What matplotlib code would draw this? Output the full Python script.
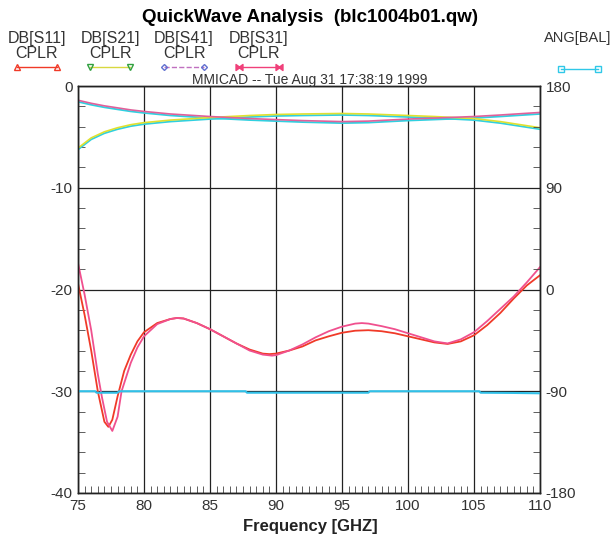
import matplotlib
matplotlib.use('Agg')
import matplotlib.pyplot as plt
from matplotlib.lines import Line2D
from matplotlib.transforms import offset_copy
from matplotlib.ticker import MultipleLocator

plt.rcParams['font.family'] = ['Liberation Sans', 'DejaVu Sans']
plt.rcParams['axes.unicode_minus'] = False

# ---- data ----
freq_s11 = [75, 75.5, 76, 76.5, 77, 77.3, 77.6, 78, 78.5, 79, 79.5, 80, 81, 82, 82.5, 83, 84, 85,
            86, 87, 88, 89, 89.5, 90, 91, 92, 93, 94, 95, 96, 97, 98, 99, 100, 101, 102, 103, 104,
            105, 106, 107, 108, 109, 110]
db_s11 = [-19.4, -22.5, -26.0, -30.0, -33.0, -33.5, -32.8, -30.5, -28.0, -26.4, -25.1, -24.2,
          -23.3, -22.9, -22.8, -22.85, -23.3, -23.9, -24.6, -25.3, -25.9, -26.3, -26.35, -26.3,
          -26.0, -25.6, -25.0, -24.6, -24.25, -24.05, -24.0, -24.1, -24.3, -24.6, -24.9, -25.2,
          -25.35, -25.1, -24.5, -23.5, -22.3, -20.9, -19.6, -18.6]

freq_s31 = [75, 75.5, 76, 76.5, 76.8, 77.2, 77.6, 78, 78.3, 78.5, 79, 79.5, 80, 81, 82, 82.5, 83,
            84, 85, 86, 87, 88, 89, 89.7, 90, 91, 92, 93, 94, 95, 96, 96.5, 97, 98, 99, 100, 101,
            102, 103, 104, 105, 106, 107, 108, 109, 110]
db_s31 = [-17.4, -20.5, -24.0, -28.3, -30.5, -33.0, -33.9, -32.5, -30.0, -29.2, -27.2, -25.7,
          -24.6, -23.4, -22.9, -22.8, -22.85, -23.3, -23.9, -24.6, -25.3, -26.0, -26.4, -26.5,
          -26.45, -26.0, -25.4, -24.7, -24.1, -23.65, -23.35, -23.3, -23.35, -23.6, -23.9, -24.3,
          -24.7, -25.1, -25.3, -24.9, -24.2, -23.1, -21.9, -20.7, -19.3, -17.8]

freq_top = [75, 76, 77, 78, 79, 80, 82, 85, 88, 90, 92, 95, 97, 100, 102, 105, 107, 110]
db_s21 = [-6.1, -5.1, -4.5, -4.1, -3.8, -3.6, -3.35, -3.1, -2.9, -2.8, -2.75, -2.7, -2.75, -2.9,
          -3.0, -3.2, -3.5, -4.1]
db_s41 = [-1.4, -1.7, -1.95, -2.15, -2.35, -2.5, -2.75, -3.0, -3.2, -3.3, -3.4, -3.5, -3.45,
          -3.25, -3.15, -3.0, -2.85, -2.6]

freq_ang = [75, 76.3, 76.4, 78.0, 78.1, 87.7, 87.8, 97.0, 97.1, 105.4, 105.5, 108, 110]
ang_bal = [-90.0, -90.0, -91.3, -91.3, -90.0, -90.0, -91.3, -91.3, -90.0, -90.0, -91.3, -91.5, -91.8]

legend_names = ['DB[S11]', 'DB[S21]', 'DB[S41]', 'DB[S31]']

W, H = 615, 540
fig = plt.figure(figsize=(W / 100, H / 100), dpi=100)
fig.patch.set_facecolor('white')
ax = fig.add_axes([78 / W, 1 - 493 / H, (540 - 78) / W, (493 - 86) / H])
ax2 = ax.twinx()

tc = '#333333'
ax.set_xlim(75, 110)
ax.set_ylim(-40, 0)
ax2.set_ylim(-180, 180)
ax.xaxis.set_major_locator(MultipleLocator(5))
ax.xaxis.set_minor_locator(MultipleLocator(0.5))
ax.yaxis.set_major_locator(MultipleLocator(10))
ax.yaxis.set_minor_locator(MultipleLocator(2))
ax2.yaxis.set_major_locator(MultipleLocator(90))
ax2.yaxis.set_minor_locator(MultipleLocator(18))
ax.grid(True, which='major', color='#222222', linewidth=0.9)
ax.tick_params(which='major', length=0, labelsize=11, labelcolor=tc, pad=4)
ax.tick_params(which='minor', direction='in', length=5, color='#444444',
               top=False, right=False)
ax2.tick_params(axis='y', which='major', length=0, labelsize=11, labelcolor=tc, pad=4)
ax2.tick_params(axis='y', which='minor', direction='in', length=5, color='#444444')
ax2.tick_params(axis='x', which='both', top=False, bottom=False, labeltop=False)
for a in (ax, ax2):
    for s in a.spines.values():
        s.set_color('#222222')
        s.set_linewidth(1.0)

# top curves with the cyan misregistration seen in the scan
shift = offset_copy(ax.transData, fig=fig, x=0, y=-1.5, units='dots')
ax.plot(freq_top, db_s21, color='#30d0e0', lw=1.3, transform=shift)
ax.plot(freq_top, db_s41, color='#30d0e0', lw=1.3, transform=shift)
ax.plot(freq_top, db_s21, color='#e0e030', lw=1.2)
ax.plot(freq_top, db_s41, color='#e0609a', lw=1.2)

ax.plot(freq_s11, db_s11, color='#f03a28', lw=1.3)
ax.plot(freq_s31, db_s31, color='#f0508e', lw=1.3)

ax2.plot(freq_ang, ang_bal, color='#30c0e8', lw=1.5)

# title and subtitle
fig.text(310 / W, 1 - 18 / H, 'QuickWave Analysis  (blc1004b01.qw)', ha='center', va='center',
         fontsize=13.5, fontweight='bold')
fig.text(310 / W, 1 - 80 / H, 'MMICAD -- Tue Aug 31 17:38:19 1999', ha='center', va='center',
         fontsize=10, color=tc)
fig.text(310 / W, 1 - 527 / H, 'Frequency [GHZ]', ha='center', va='center',
         fontsize=12, fontweight='bold', color='#222222')

# legend entries
leg_x = [37, 110, 184, 259]
leg_styles = [dict(color='#f03a28', marker='^', mec='#f03a28', ls='-'),
              dict(color='#d8d840', marker='v', mec='#30a040', ls='-'),
              dict(color='#c070c0', marker='D', mec='#6070d0', ls='--', ms=3),
              dict(color='#f0407a', marker='$\u22c8$', mec='#f0407a', ls='-')]
for cx, name, st in zip(leg_x, legend_names, leg_styles):
    fig.text(cx / W, 1 - 38 / H, name, ha='center', va='center', fontsize=11.5, color=tc)
    fig.text(cx / W, 1 - 54 / H, 'CPLR', ha='center', va='center', fontsize=11.5, color=tc)
    ms = st.pop('ms', 5)
    fig.add_artist(Line2D([(cx - 20) / W, (cx + 20) / W], [1 - 67 / H, 1 - 67 / H],
                          lw=1.0, ms=ms, mfc='none', **st))
fig.text(611 / W, 1 - 38 / H, 'ANG[BAL]', ha='right', va='center', fontsize=10.5, color=tc)
fig.add_artist(Line2D([561 / W, 598 / W], [1 - 69 / H, 1 - 69 / H], color='#30c8e8', lw=1.0,
                      marker='s', ms=5, mfc='none', mec='#30c8e8'))

fig.savefig('out.png', dpi=100)
